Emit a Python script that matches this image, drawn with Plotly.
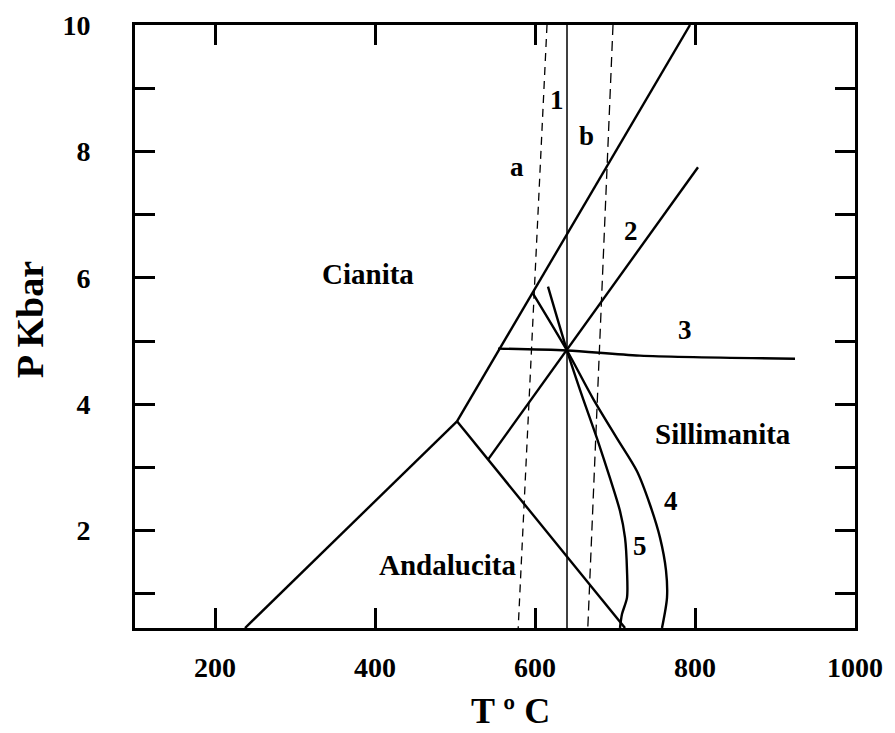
import plotly.graph_objects as go

# ---- data (T in °C, P in kbar) ----
ky_sil_T = [502.5, 793.75]
ky_sil_P = [3.73, 10.0]
and_ky_T = [237.5, 502.5]
and_ky_P = [0.46, 3.73]
and_sil_T = [502.5, 712.5]
and_sil_P = [3.73, 0.46]

line1_T = [640, 640]
line1_P = [0.46, 10.0]
line_a_T = [615, 579]
line_a_P = [10.0, 0.46]
line_b_T = [697.5, 666]
line_b_P = [10.0, 0.46]
line2_T = [541, 803.75]
line2_P = [3.12, 7.75]
line3_T = [553.75, 640, 731, 925]
line3_P = [4.88, 4.85, 4.77, 4.72]
curve4_T = [597.5, 640, 672.5, 702.5, 727.5, 743.75, 756.25, 763.75, 765, 758.75]
curve4_P = [5.75, 4.85, 4.09, 3.46, 2.94, 2.41, 1.89, 1.37, 0.94, 0.46]
curve5_T = [616.25, 640, 660, 677.5, 693.75, 706.25, 712.5, 715, 715, 708.75, 706.25]
curve5_P = [5.86, 4.85, 4.09, 3.46, 2.83, 2.31, 1.89, 1.37, 0.94, 0.68, 0.46]

x_tickvals = [200, 400, 600, 800, 1000]
x_ticktext = ["200", "400", "600", "800", "1000"]
y_tickvals = [1, 2, 3, 4, 5, 6, 7, 8, 9, 10]
y_ticktext = ["", "2", "", "4", "", "6", "", "8", "", "10"]

region_names = ["Cianita", "Sillimanita", "Andalucita"]
region_T = [391, 835, 490]
region_P = [6.06, 3.53, 1.46]

curve_labels = ["1", "a", "b", "2", "3", "4", "5"]
curve_label_T = [627.5, 577.5, 664, 720, 787.5, 770, 731]
curve_label_P = [8.82, 7.75, 8.24, 6.74, 5.17, 2.47, 1.76]

x_title = "T º C"
y_title = "P Kbar"

FONT = "Liberation Serif"

fig = go.Figure()

def add_line(T, P, width=2.2, dash="solid", shape="linear"):
    fig.add_trace(go.Scatter(x=T, y=P, mode="lines",
                             line=dict(color="black", width=width, dash=dash, shape=shape,
                                       smoothing=0.8),
                             showlegend=False, hoverinfo="skip"))

add_line(ky_sil_T, ky_sil_P, 2.4)
add_line(and_ky_T, and_ky_P, 2.4)
add_line(and_sil_T, and_sil_P, 2.4)
add_line(line1_T, line1_P, 1.5)
add_line(line_a_T, line_a_P, 1.3, dash="8px,6px")
add_line(line_b_T, line_b_P, 1.3, dash="10px,6px")
add_line(line2_T, line2_P, 2.4)
add_line(line3_T, line3_P, 2.4, shape="spline")
add_line(curve4_T, curve4_P, 2.4, shape="spline")
add_line(curve5_T, curve5_P, 2.4, shape="spline")

for name, t, p in zip(region_names, region_T, region_P):
    fig.add_annotation(x=t, y=p, text=name, showarrow=False,
                       font=dict(family=FONT, size=29, color="black", weight="bold"))

for name, t, p in zip(curve_labels, curve_label_T, curve_label_P):
    fig.add_annotation(x=t, y=p, text=name, showarrow=False,
                       font=dict(family=FONT, size=27, color="black", weight="bold"))

# axis titles placed as annotations (pixel-matched to the reference)
fig.add_annotation(xref="paper", yref="paper", x=0.521, y=-0.137, text=x_title,
                   showarrow=False, xanchor="center", yanchor="middle",
                   font=dict(family=FONT, size=36, color="black", weight="bold"))
fig.add_annotation(xref="paper", yref="paper", x=-0.146, y=0.512, text=y_title,
                   showarrow=False, textangle=-90, xanchor="center", yanchor="middle",
                   font=dict(family=FONT, size=38, color="black", weight="bold"))

axis_common = dict(showline=True, linecolor="black", linewidth=3, mirror="ticks",
                   ticks="inside", ticklen=20, tickwidth=2.5, tickcolor="black",
                   showgrid=False, zeroline=False, automargin=False,
                   tickfont=dict(family=FONT, size=28, color="black", weight="bold"))

fig.update_layout(
    width=895, height=733,
    margin=dict(l=135, r=40, t=25, b=105),
    paper_bgcolor="white", plot_bgcolor="white",
    xaxis=dict(range=[100, 1000], tickmode="array", tickvals=x_tickvals, ticktext=x_ticktext,
               ticklabelstandoff=12, **axis_common),
    yaxis=dict(range=[0.46, 10], tickmode="array", tickvals=y_tickvals, ticktext=y_ticktext,
               ticklabelstandoff=36, **axis_common),
)

fig.write_html("out.html")
